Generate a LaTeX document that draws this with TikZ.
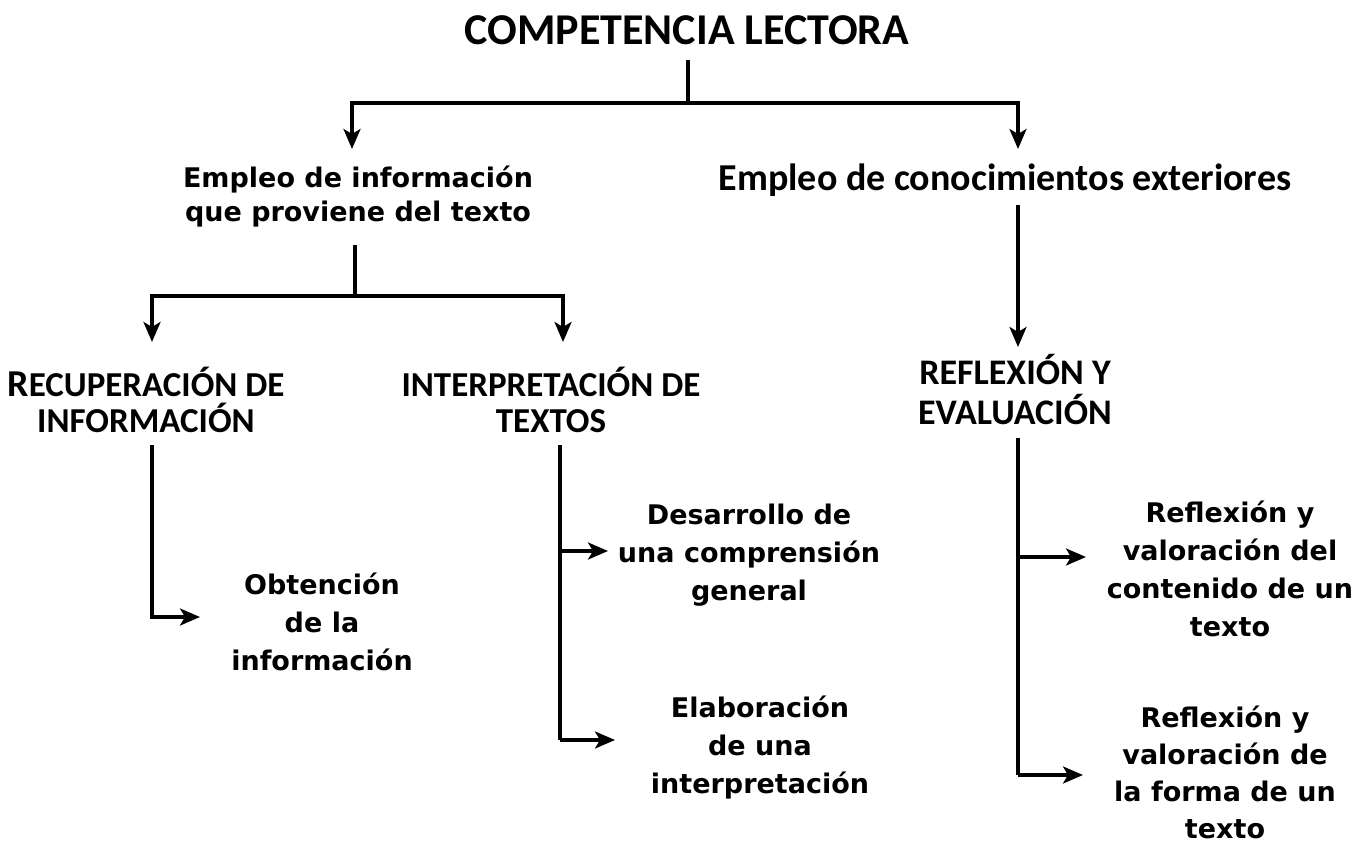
\documentclass[tikz,border=0pt]{standalone}
\usepackage{fontspec}
\setmainfont{DejaVu Sans}
\newfontfamily\calib{Carlito}
\usetikzlibrary{arrows.meta}
\begin{document}
\begin{tikzpicture}[x=1pt,y=-1pt,
  line/.style={line width=3.2pt,line cap=butt,line join=miter},
  arr/.style={line, -{Stealth[length=20pt,width=17pt,inset=5pt]}},
  body/.style={align=center,inner sep=0pt,font=\bfseries\fontsize{27}{38}\selectfont},
  head/.style={align=center,inner sep=0pt,font=\calib\bfseries\fontsize{35}{36}\selectfont},
]
\useasboundingbox[fill=white] (0,0) rectangle (1367,842);
% texts
\node[inner sep=0pt,font=\calib\bfseries\fontsize{44}{48}\selectfont] (t) at (687,30) {COMPETENCIA LECTORA};
\node[body,font=\bfseries\fontsize{27}{34}\selectfont] (e1) at (358,197) {Empleo de información\\que proviene del texto};
\node[inner sep=0pt,font=\calib\bfseries\fontsize{38}{40}\selectfont] (e2) at (1005,180) {Empleo de conocimientos exteriores};
\node[head] (r1) at (146,400) {{\fontsize{38}{36}\selectfont R}ECUPERACIÓN DE\\INFORMACIÓN};
\node[head] (r2) at (551,400) {INTERPRETACIÓN DE\\TEXTOS};
\node[head,font=\calib\bfseries\fontsize{36}{40}\selectfont] (r3) at (1015,390) {REFLEXIÓN Y\\EVALUACIÓN};
\node[body] (o1) at (322,622) {Obtención\\de la\\información};
\node[body] (d1) at (749,555) {Desarrollo de\\una comprensión\\general};
\node[body] (d2) at (760,748) {Elaboración\\de una\\interpretación};
\node[body] (f1) at (1230,569) {Reflexión y\\valoración del\\contenido de un\\texto};
\node[body,font=\bfseries\fontsize{27}{37}\selectfont] (f2) at (1225,772) {Reflexión y\\valoración de\\la forma de un\\texto};
% junction coordinates
\coordinate (ta) at (688,60);
\coordinate (tj) at (688,103);
\coordinate (e1a) at (352,149);
\coordinate (e2a) at (1018,149);
\coordinate (e1s) at (355,245);
\coordinate (e1j) at (355,296);
\coordinate (r1a) at (152,342);
\coordinate (r2a) at (563,342);
\coordinate (e2s) at (1018,205);
\coordinate (r3a) at (1018,347);
\coordinate (r1s) at (152,445);
\coordinate (r1c) at (152,617);
\coordinate (o1a) at (200,617);
\coordinate (r2s) at (560,445);
\coordinate (r2c1) at (560,551);
\coordinate (r2c2) at (560,740);
\coordinate (d1a) at (608,551);
\coordinate (d2a) at (615,740);
\coordinate (r3s) at (1018,438);
\coordinate (r3c1) at (1018,557);
\coordinate (r3c2) at (1018,775);
\coordinate (f1a) at (1086,557);
\coordinate (f2a) at (1083,775);
% connectors
\draw[line] (ta) -- (tj);
\draw[arr] (tj) -| (e1a);
\draw[arr] (tj) -| (e2a);
\draw[line] (e1s) -- (e1j);
\draw[arr] (e1j) -| (r1a);
\draw[arr] (e1j) -| (r2a);
\draw[arr] (e2s) -- (r3a);
\draw[arr] (r1s) -- (r1c) -- (o1a);
\draw[line] (r2s) -- (r2c2);
\draw[arr] (r2c1) -- (d1a);
\draw[arr] (r2c2) -- (d2a);
\draw[line] (r3s) -- (r3c2);
\draw[arr] (r3c1) -- (f1a);
\draw[arr] (r3c2) -- (f2a);
\end{tikzpicture}
\end{document}
